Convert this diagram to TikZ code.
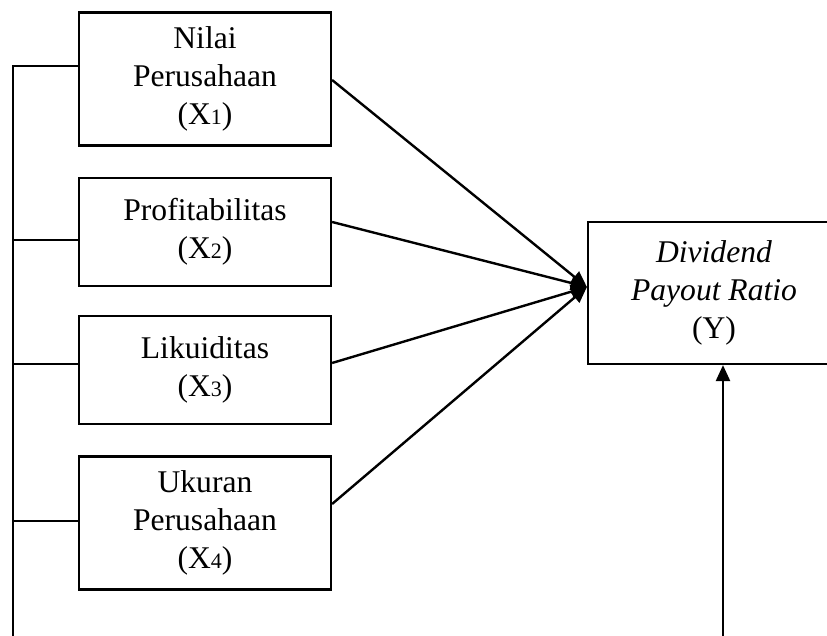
\documentclass[tikz,border=0pt]{standalone}
\usepackage{fontspec}
\setmainfont{Liberation Serif}
\usetikzlibrary{arrows.meta}
\newcommand{\sm}[1]{{\fontsize{11}{12}\selectfont #1}}

\begin{document}
\begin{tikzpicture}[
    x=0.5pt, y=0.5pt,
    box/.style={draw, line width=1.1pt, align=center, inner sep=2pt,
                minimum width=126pt, font=\fontsize{15.8}{18.8}\selectfont},
    var/.style={box, minimum height=54pt},
    tall/.style={box, minimum height=66.5pt},
    dep/.style={box, minimum height=71pt},
    arr/.style={-{Triangle[length=8pt, width=7pt]}, line width=1.2pt},
    link/.style={line width=1.1pt},
]
\useasboundingbox (0,0) rectangle (827,636);

% --- NODES ---
\node[tall] (X1) at (205, 557) {Nilai\\Perusahaan\\(X\sm{1})};
\node[var]  (X2) at (205, 404) {Profitabilitas\\(X\sm{2})};
\node[var]  (X3) at (205, 266) {Likuiditas\\(X\sm{3})};
\node[tall] (X4) at (205, 113) {Ukuran\\Perusahaan\\(X\sm{4})};

\node[dep] (Y) at (714, 343) {\textit{Dividend}\\\textit{Payout Ratio}\\(Y)};

\coordinate (spine) at (13, 0);
\coordinate (tip) at ([yshift=3pt]Y.west);
\coordinate (ybot) at ([xshift=4.5pt]Y.south |- 0,0);

% --- ARROWS ---
\draw[arr] ([yshift=-0.5pt]X1.east) -- (tip);
\draw[arr] ([yshift=5pt]X2.east) -- (tip);
\draw[arr] ([yshift=3.5pt]X3.east) -- (tip);
\draw[arr] ([yshift=9.5pt]X4.east) -- (tip);

\draw[arr] (ybot) -- ([xshift=4.5pt]Y.south);

% left connector
\draw[link] (spine) |- ([yshift=6.5pt]X1.west);
\draw[link] ([yshift=-4pt]X2.west) -- ([yshift=-4pt]X2.west -| spine);
\draw[link] ([yshift=3pt]X3.west) -- ([yshift=3pt]X3.west -| spine);
\draw[link] ([yshift=1pt]X4.west) -- ([yshift=1pt]X4.west -| spine);

\end{tikzpicture}
\end{document}
